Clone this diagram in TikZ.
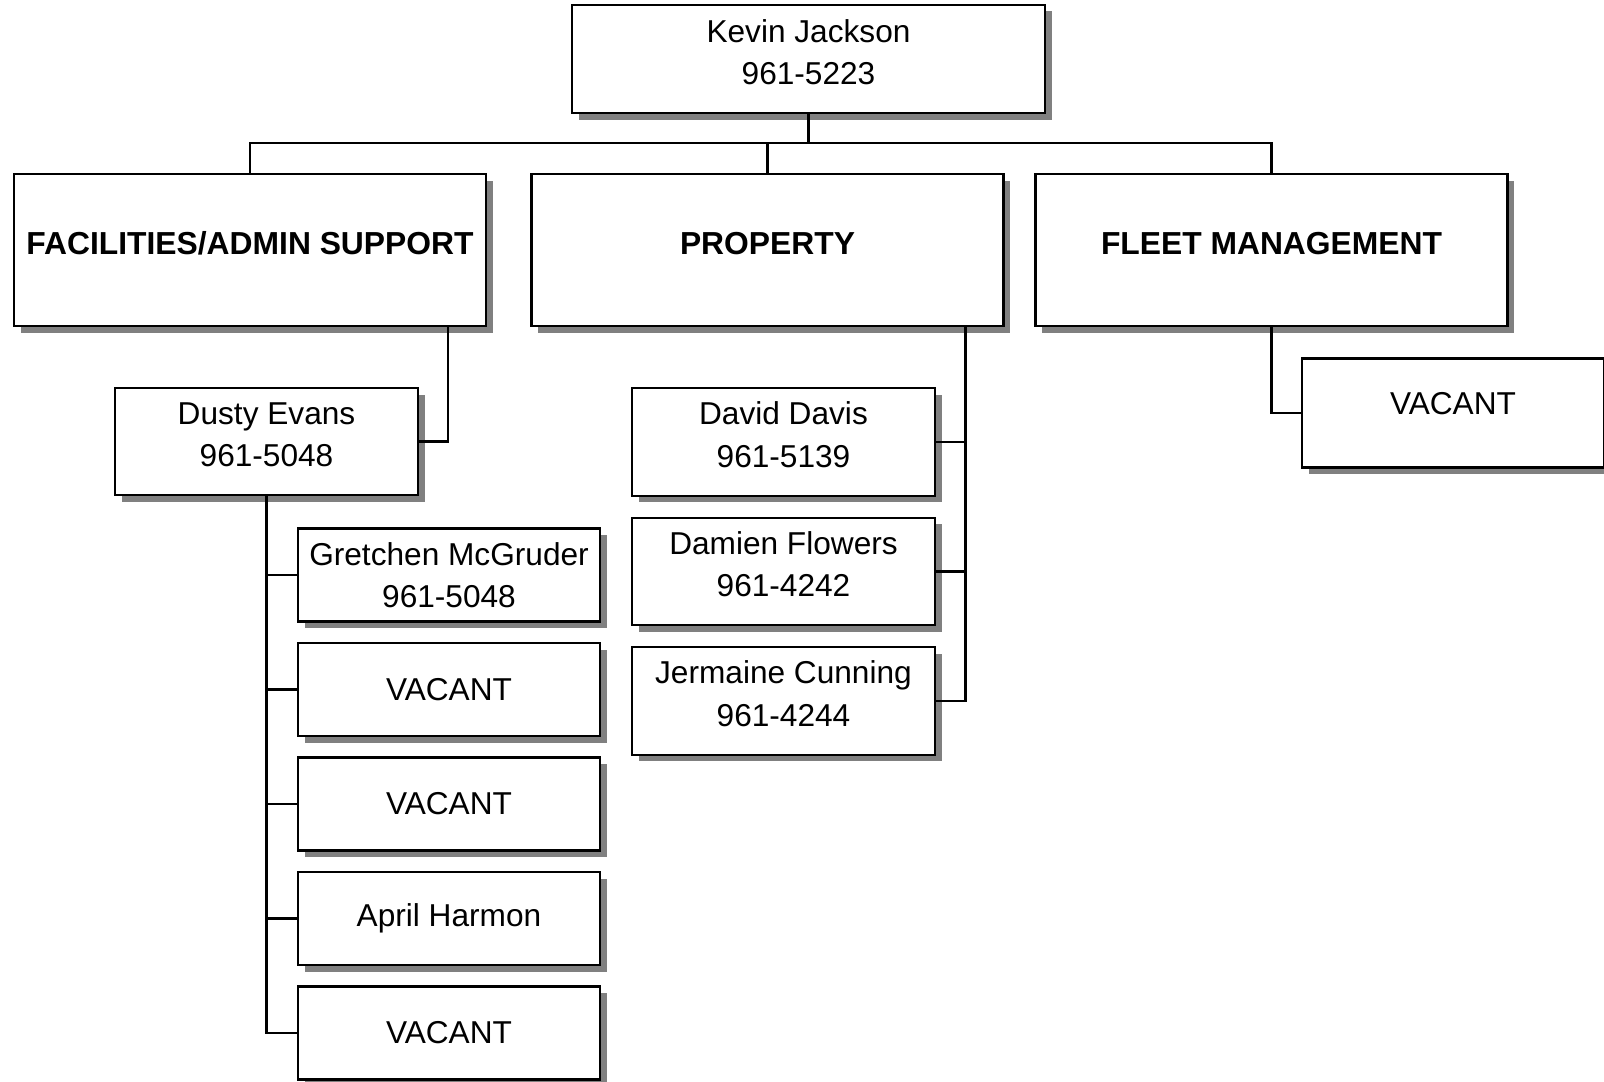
\documentclass[tikz,border=0pt]{standalone}
\usepackage{fontspec}
\setmainfont{Liberation Sans}
\usetikzlibrary{positioning,shadows}
\newcommand{\dropby}[1]{\rule[-#1]{0pt}{#1}}
\begin{document}
\begin{tikzpicture}[
		box/.style={draw, line width=1.3pt, fill=white, align=center, inner sep=0pt, outer sep=0pt,
			font=\fontsize{18}{24}\selectfont,
			drop shadow={shadow xshift=0.13cm, shadow yshift=-0.13cm, fill=black!50, opacity=1}},
		headbox/.style={box, minimum width=9.46cm, minimum height=2.16cm},
		deptbox/.style={box, minimum width=9.44cm, minimum height=3.04cm, font=\fontsize{18.1}{24}\selectfont\bfseries},
		namebox/.style={box, minimum width=6.06cm, minimum height=2.15cm},
		staffbox/.style={box, minimum width=6.04cm, minimum height=1.86cm},
		link/.style={line width=1.25pt}
	]
		\useasboundingbox (0,0) rectangle (32.08,-21.62);
		% top
		\node[headbox] (kj) at (16.17,-1.18) {Kevin Jackson\\961-5223\dropby{0.28cm}};
		% departments
		\node[deptbox] (fas) at (5.0,-5.0) {FACILITIES/ADMIN SUPPORT\dropby{0.28cm}};
		\node[deptbox] (prop) at (15.35,-5.0) {PROPERTY\dropby{0.28cm}};
		\node[deptbox] (fleet) at (25.43,-5.0) {FLEET MANAGEMENT\dropby{0.28cm}};
		\coordinate (bus) at (0,-2.86);
		\draw[link] (fas.north) -- (fas.north |- bus) -- (fleet.north |- bus) -- (fleet.north);
		\draw[link] (kj.south) -- (kj.south |- bus);
		\draw[link] (prop.north) -- (prop.north |- bus);
		% facilities
		\node[namebox, minimum height=2.14cm] (de) at (5.33,-8.83) {Dusty Evans\\961-5048\dropby{0.26cm}};
		\node[staffbox] (gm) at (8.98,-11.5) {Gretchen McGruder\\961-5048};
		\node[staffbox, below=0.43cm of gm] (v1) {VACANT};
		\node[staffbox, below=0.43cm of v1] (v2) {VACANT};
		\node[staffbox, below=0.43cm of v2] (ah) {April Harmon};
		\node[staffbox, below=0.43cm of ah] (v3) {VACANT};
		\draw[link] ([xshift=3.96cm]fas.south) |- (de.east);
		\draw[link] (de.south) |- (gm.west);
		\draw[link] (de.south) |- (v1.west);
		\draw[link] (de.south) |- (v2.west);
		\draw[link] (de.south) |- (ah.west);
		\draw[link] (de.south) |- (v3.west);
		% property
		\node[namebox] (dd) at (15.67,-8.84) {David Davis\\961-5139\dropby{0.3cm}};
		\node[namebox, below=0.44cm of dd] (df) {Damien Flowers\\961-4242\dropby{0.3cm}};
		\node[namebox, below=0.44cm of df] (jc) {Jermaine Cunning\\961-4244\dropby{0.3cm}};
		\draw[link] ([xshift=3.96cm]prop.south) |- (dd.east);
		\draw[link] ([xshift=3.96cm]prop.south) |- (df.east);
		\draw[link] ([xshift=3.96cm]prop.south) |- (jc.east);
		% fleet
		\node[staffbox, minimum height=2.18cm] (fv) at (29.06,-8.26) {VACANT\dropby{0.38cm}};
		\draw[link] (fleet.south) |- (fv.west);
	\end{tikzpicture}
\end{document}
